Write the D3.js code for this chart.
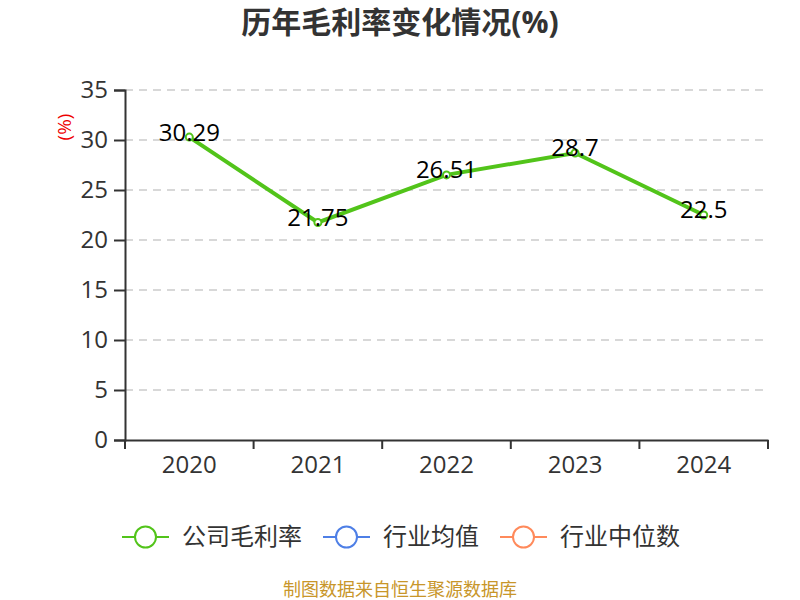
<!DOCTYPE html>
<html>
<head>
<meta charset="utf-8">
<script src="https://cdn.jsdelivr.net/npm/d3@7"></script>
<style>
  body { margin: 0; background: #fff; }
  text { font-family: "Open Sans", "Noto Sans CJK SC", sans-serif; }
</style>
</head>
<body>
<div id="chart"></div>
<script>
const years = ["2020", "2021", "2022", "2023", "2024"];
const grossMargin = [30.29, 21.75, 26.51, 28.7, 22.5];
const yTicks = [0, 5, 10, 15, 20, 25, 30, 35];
const legendNames = ["公司毛利率", "行业均值", "行业中位数"];
const legendColors = ["#52c41a", "#4e7fe6", "#ff8a5b"];

const width = 800, height = 600;
const plotLeft = 125, plotRight = 768, plotTop = 90, plotBottom = 440;

let svg = d3.select("#chart")
            .append("svg")
            .attr("width", width)
            .attr("height", height);

// title
svg.append("text")
    .attr("x", 400)
    .attr("y", 33)
    .attr("text-anchor", "middle")
    .style("font-size", "30px")
    .style("font-weight", "bold")
    .attr("fill", "#333")
    .text("历年毛利率变化情况(%)");

const x = d3.scaleBand().domain(years).range([plotLeft, plotRight]);
const y = d3.scaleLinear().domain([0, 35]).range([plotBottom, plotTop]);

// grid lines
svg.append("g")
    .selectAll("line")
    .data(yTicks.filter(d => d > 0))
    .join("line")
    .attr("x1", plotLeft)
    .attr("x2", plotRight)
    .attr("y1", d => y(d))
    .attr("y2", d => y(d))
    .attr("stroke", "#ccc")
    .attr("stroke-width", 1.5)
    .attr("stroke-dasharray", "8,6");

// y axis
let yAxis = svg.append("g")
    .attr("transform", "translate(" + plotLeft + ",0)")
    .call(d3.axisLeft(y).tickValues(yTicks).tickSize(11).tickPadding(6));
yAxis.select(".domain").attr("stroke", "#333").attr("stroke-width", 2);
yAxis.selectAll(".tick line").attr("stroke", "#333").attr("stroke-width", 2);
yAxis.selectAll(".tick text")
    .style("font-size", "24px")
    .attr("fill", "#333");

// x axis
let xAxis = svg.append("g")
    .attr("transform", "translate(0," + plotBottom + ")")
    .call(d3.axisBottom(x).tickSize(0).tickPadding(16));
xAxis.select(".domain").attr("stroke", "#333").attr("stroke-width", 2);
xAxis.selectAll(".tick text")
    .style("font-size", "24px")
    .attr("fill", "#333");
// ticks at band edges
xAxis.selectAll(".edge")
    .data(years.map(d => x(d)).concat([plotRight]))
    .join("line")
    .attr("class", "edge")
    .attr("x1", d => d)
    .attr("x2", d => d)
    .attr("y1", 0)
    .attr("y2", 9)
    .attr("stroke", "#333")
    .attr("stroke-width", 2);

// unit label
svg.append("text")
    .attr("transform", "translate(64,127) rotate(-90)")
    .attr("text-anchor", "middle")
    .attr("dy", "0.35em")
    .style("font-size", "19px")
    .attr("fill", "#e00")
    .text("(%)");

// line
const cx = d => x(d) + x.bandwidth() / 2;
const line = d3.line()
    .x((d, i) => cx(years[i]))
    .y(d => y(d));

svg.append("path")
    .datum(grossMargin)
    .attr("d", line)
    .attr("fill", "none")
    .attr("stroke", legendColors[0])
    .attr("stroke-width", 4);

svg.append("g")
    .selectAll("circle")
    .data(grossMargin)
    .join("circle")
    .attr("cx", (d, i) => cx(years[i]))
    .attr("cy", d => y(d))
    .attr("r", 3.5)
    .attr("fill", "#fff")
    .attr("stroke", legendColors[0])
    .attr("stroke-width", 2);

svg.append("g")
    .selectAll("text")
    .data(grossMargin)
    .join("text")
    .attr("x", (d, i) => cx(years[i]))
    .attr("y", d => y(d) - 5)
    .attr("dy", "0.35em")
    .attr("text-anchor", "middle")
    .style("font-size", "24px")
    .attr("fill", "#000")
    .text(d => d);

// legend
const legendX = [122, 323, 500];
let legend = svg.append("g");
legendNames.forEach((name, i) => {
    let g = legend.append("g").attr("transform", "translate(" + legendX[i] + ",537)");
    g.append("line")
        .attr("x1", 0).attr("x2", 47)
        .attr("y1", 0).attr("y2", 0)
        .attr("stroke", legendColors[i])
        .attr("stroke-width", 2);
    g.append("circle")
        .attr("cx", 23.5).attr("cy", 0).attr("r", 10.5)
        .attr("fill", "#fff")
        .attr("stroke", legendColors[i])
        .attr("stroke-width", 2);
    g.append("text")
        .attr("x", 60).attr("y", 0)
        .attr("dy", "0.35em")
        .style("font-size", "24px")
        .attr("fill", "#333")
        .text(name);
});

// footer
svg.append("text")
    .attr("x", 400)
    .attr("y", 596)
    .attr("text-anchor", "middle")
    .style("font-size", "18px")
    .attr("fill", "#c8962a")
    .text("制图数据来自恒生聚源数据库");
</script>
</body>
</html>
